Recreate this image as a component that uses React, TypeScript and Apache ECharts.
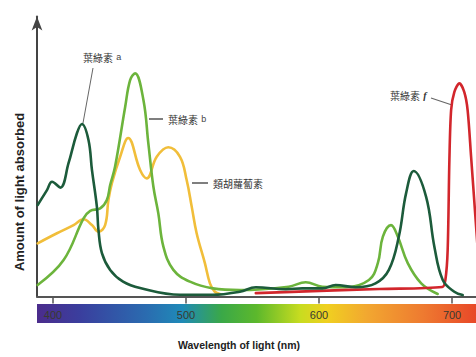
import React, { useEffect, useRef } from "react";
import * as echarts from "echarts";

// [wavelength (nm), relative absorbance]
const chlorophyllA: [number, number][] = [
  [388.5, 32.7], [395.5, 38.0], [399.3, 41.0], [405.5, 38.9], [411.7, 47.6], [418.0, 58.3],
  [421.8, 61.6], [426.7, 55.9], [429.3, 45.2], [433.0, 32.1], [434.2, 23.8], [436.8, 15.5],
  [443.0, 9.5], [452.7, 5.3], [465.5, 3.0], [495.5, 0.6], [520.2, 0.6], [540.5, 1.7],
  [552.5, 3.3], [575.0, 2.6], [587.5, 2.9], [602.5, 2.9], [612.5, 4.1], [627.5, 3.3],
  [642.5, 4.7], [652.5, 9.5], [660.0, 21.4], [665.5, 37.0], [671.2, 44.8], [680.5, 35.6],
  [686.7, 17.8], [693.0, 5.9], [701.7, 1.7], [708.0, 0.5],
];
const chlorophyllB: [number, number][] = [
  [388.5, 4.1], [408.0, 13.0], [423.0, 27.9], [428.0, 30.6], [435.5, 31.5], [440.5, 34.5],
  [443.0, 39.8], [446.7, 46.4], [454.3, 67.8], [458.0, 77.3], [461.7, 79.7], [468.0, 70.2],
  [471.7, 54.7], [475.5, 39.2], [479.2, 29.7], [483.0, 17.8], [490.5, 9.5], [503.0, 5.3],
  [520.2, 2.9], [540.5, 2.3], [577.2, 3.5], [590.0, 5.1], [602.5, 3.5], [620.0, 3.3],
  [637.5, 5.9], [644.2, 11.9], [648.0, 21.4], [654.1, 25.5], [659.2, 21.4], [666.7, 11.9],
  [676.8, 4.7], [689.2, 0.9],
];
const carotenoids: [number, number][] = [
  [388.5, 19.0], [403.0, 22.6], [415.5, 25.5], [423.0, 27.6], [429.3, 25.5], [434.2, 23.1],
  [439.2, 25.5], [441.7, 34.5], [444.3, 40.5], [450.5, 49.9], [456.5, 56.6], [465.5, 45.2],
  [470.5, 42.2], [478.0, 49.9], [486.7, 53.3], [495.5, 49.9], [500.5, 41.6], [504.3, 32.1],
  [508.0, 22.6], [514.2, 11.9], [518.0, 4.7], [521.7, 1.7], [525.5, 0.9],
];
const chlorophyllF: [number, number][] = [
  [552.5, 1.2], [600.5, 2.0], [645.5, 2.7], [692.7, 3.4], [695.0, 6.0], [696.7, 16.6],
  [698.0, 48.8], [699.3, 66.6], [701.7, 73.0], [705.5, 76.1], [709.2, 73.0], [711.7, 66.6],
  [714.3, 50.0], [717.5, 28.8], [720.0, 12.0],
];
const tickValues = [400, 500, 600, 700];

const labelA = "葉綠素";
const labelCar = "類胡蘿蔔素";

export default function App() {
  const ref = useRef<HTMLDivElement>(null);
  useEffect(() => {
    if (!ref.current) return;
    const chart = echarts.init(ref.current, null, { renderer: "svg" });
    const lineSeries = (name: string, data: [number, number][], color: string, smooth: number | boolean) => ({
      type: "line",
      name,
      data,
      smooth,
      symbol: "none",
      lineStyle: { color, width: 2.6, cap: "round", join: "round" },
    });
    const cn = "'Noto Sans CJK TC', 'Noto Sans CJK SC', sans-serif";
    const option: any = {
      animation: false,
      backgroundColor: "#ffffff",
      grid: { left: 37, right: 0, top: 16.5, bottom: 60.5 },
      xAxis: {
        type: "value",
        min: 388,
        max: 718,
        axisLine: { show: true, onZero: false, lineStyle: { color: "#555", width: 2 } },
        axisTick: { show: true, customValues: tickValues, length: 7, lineStyle: { color: "#555", width: 1.5 } },
        axisLabel: {
          customValues: tickValues,
          margin: 13,
          color: "#3a3a30",
          fontSize: 11,
          fontFamily: "'Liberation Sans Narrow', 'Liberation Sans', sans-serif",
        },
        splitLine: { show: false },
      },
      yAxis: {
        type: "value",
        min: 0,
        max: 100,
        axisLine: {
          show: true,
          symbol: ["none", "arrow"],
          symbolSize: [8, 14],
          lineStyle: { color: "#444", width: 2 },
        },
        axisTick: { show: false },
        axisLabel: { show: false },
        splitLine: { show: false },
      },
      series: [
        lineSeries("類胡蘿蔔素", carotenoids, "#f1be3a", 0.4),
        lineSeries("葉綠素 b", chlorophyllB, "#6cb43c", 0.4),
        lineSeries("葉綠素 f", chlorophyllF, "#d2262c", 0.3),
        lineSeries("葉綠素 a", chlorophyllA, "#1c5b3b", 0.4),
      ],
      graphic: [
        {
          type: "rect",
          z: -10,
          shape: { x: 37, y: 304, width: 439, height: 19 },
          style: {
            fill: new echarts.graphic.LinearGradient(0, 0, 1, 0, [
              { offset: 0, color: "#4b2c8c" },
              { offset: 0.1, color: "#3a3f9e" },
              { offset: 0.25, color: "#2a6cb0" },
              { offset: 0.33, color: "#1f8ab8" },
              { offset: 0.42, color: "#3aa848" },
              { offset: 0.5, color: "#5cb82c" },
              { offset: 0.6, color: "#c8dc20" },
              { offset: 0.66, color: "#f0d020" },
              { offset: 0.75, color: "#f2a830" },
              { offset: 0.88, color: "#ee7a30" },
              { offset: 1, color: "#e84828" },
            ]),
          },
        },
        {
          type: "text",
          x: 19,
          y: 192,
          rotation: Math.PI / 2,
          style: {
            text: "Amount of light absorbed",
            fill: "#222",
            font: "bold 13px 'Liberation Sans', Arial, sans-serif",
            textAlign: "center",
            textVerticalAlign: "middle",
          },
        },
        {
          type: "text",
          x: 239,
          y: 345,
          style: {
            text: "Wavelength of light (nm)",
            fill: "#222",
            font: "bold 10.5px 'Liberation Sans', Arial, sans-serif",
            textAlign: "center",
            textVerticalAlign: "middle",
          },
        },
        // annotations
        { type: "line", shape: { x1: 93, y1: 68, x2: 83, y2: 123 }, style: { stroke: "#666", lineWidth: 1 } },
        {
          type: "text",
          x: 83,
          y: 57,
          style: {
            text: "{c|" + labelA + "} {l|a}",
            textVerticalAlign: "middle",
            rich: {
              c: { font: "10px " + cn, fill: "#333" },
              l: { font: "9px 'Liberation Sans', sans-serif", fill: "#444" },
            },
          },
        },
        { type: "line", shape: { x1: 149, y1: 119, x2: 163, y2: 119 }, style: { stroke: "#555", lineWidth: 1.5 } },
        {
          type: "text",
          x: 168,
          y: 119,
          style: {
            text: "{c|" + labelA + "} {l|b}",
            textVerticalAlign: "middle",
            rich: {
              c: { font: "10px " + cn, fill: "#333" },
              l: { font: "9px 'Liberation Sans', sans-serif", fill: "#444" },
            },
          },
        },
        { type: "line", shape: { x1: 192, y1: 183, x2: 208, y2: 183 }, style: { stroke: "#555", lineWidth: 1.5 } },
        {
          type: "text",
          x: 213,
          y: 183,
          style: { text: labelCar, font: "10px " + cn, fill: "#333", textVerticalAlign: "middle" },
        },
        { type: "line", shape: { x1: 431, y1: 98, x2: 452, y2: 105 }, style: { stroke: "#666", lineWidth: 1.2 } },
        {
          type: "text",
          x: 390,
          y: 95,
          style: {
            text: "{c|" + labelA + "} {l|f}",
            textVerticalAlign: "middle",
            rich: {
              c: { font: "10px " + cn, fill: "#333" },
              l: { font: "italic bold 10px 'Liberation Serif', serif", fill: "#333" },
            },
          },
        },
      ],
    };
    chart.setOption(option);
    return () => chart.dispose();
  }, []);
  return (
    <div
      ref={ref}
      style={{ position: "fixed", left: 0, top: 0, width: 476, height: 357 }}
    />
  );
}
